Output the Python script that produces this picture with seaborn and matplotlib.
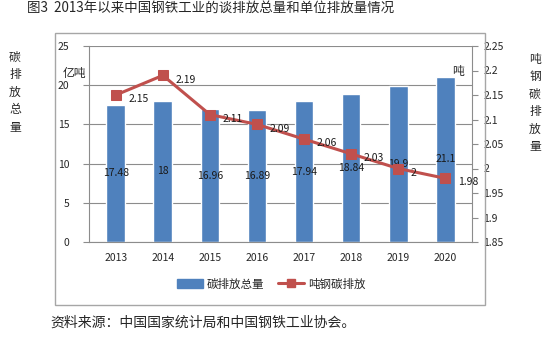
import matplotlib
matplotlib.use("Agg")
import matplotlib.pyplot as plt
from matplotlib.patches import Rectangle
from matplotlib.lines import Line2D
from matplotlib.patches import Patch
import numpy as np
import pandas as pd
import seaborn as sns

years = ['2013', '2014', '2015', '2016', '2017', '2018', '2019', '2020']
total_emission = [17.48, 18, 16.96, 16.89, 17.94, 18.84, 19.9, 21.1]   # 亿吨
per_ton = [2.15, 2.19, 2.11, 2.09, 2.06, 2.03, 2.0, 1.98]             # 吨
per_ton_labels = ['2.15', '2.19', '2.11', '2.09', '2.06', '2.03', '2', '1.98']
bar_labels = ['17.48', '18', '16.96', '16.89', '17.94', '18.84', '19.9', '21.1']

df = pd.DataFrame({'year': years, 'total': total_emission,
                   'pos': np.arange(len(years)), 'per_ton': per_ton})

sns.set_style("white")
plt.rcParams['font.family'] = ['Noto Sans CJK SC', 'DejaVu Sans']

blue = '#4F81BD'
red = '#C0504D'
grid = '#8C8C8C'

fig = plt.figure(figsize=(5.48, 3.57), dpi=100)
W, H = 548, 357

# chart frame
fig.patches.append(Rectangle((55 / W, 1 - 305 / H), 430 / W, 272 / H,
                             transform=fig.transFigure, fill=False,
                             edgecolor='#A6A6A6', linewidth=1.0))

ax = fig.add_axes([89 / W, 1 - 242 / H, 383 / W, 196 / H])
sns.barplot(data=df, x='year', y='total', color=blue, width=0.4,
            saturation=1, ax=ax)
ax.set_ylim(0, 25)
ax.set_yticks(range(0, 26, 5))
ax.yaxis.grid(True, color=grid, linewidth=0.8)
ax.set_axisbelow(True)
ax.set_xlabel('')
ax.set_ylabel('')
for s in ['top', 'right']:
    ax.spines[s].set_visible(False)
ax.spines['left'].set_color(grid)
ax.spines['bottom'].set_color(grid)
ax.tick_params(axis='y', length=4, color=grid, labelsize=7.5, pad=10)
ax.tick_params(axis='x', length=0, labelsize=7.5, pad=8)
ax.bar_label(ax.containers[0], labels=bar_labels, label_type='center',
             fontsize=7.5, color='#1a1a1a')

ax2 = ax.twinx()
sns.lineplot(data=df, x='pos', y='per_ton', color=red, linewidth=2.2,
             marker='s', markersize=6.5, markeredgecolor=red, ax=ax2)
ax2.set_ylim(1.85, 2.25)
ax2.set_yticks([1.85, 1.9, 1.95, 2.0, 2.05, 2.1, 2.15, 2.2, 2.25])
ax2.set_yticklabels(['1.85', '1.9', '1.95', '2', '2.05', '2.1', '2.15', '2.2', '2.25'])
ax2.set_xlim(ax.get_xlim())
ax2.set_xlabel('')
ax2.set_ylabel('')
for s in ['top', 'left', 'bottom']:
    ax2.spines[s].set_visible(False)
ax2.spines['right'].set_color(grid)
ax2.tick_params(axis='y', length=4, color=grid, labelsize=7.5, pad=4)
for x, y, t in zip(df['pos'], per_ton, per_ton_labels):
    ax2.annotate(t, (x, y), xytext=(9, -3), textcoords='offset points',
                 fontsize=7.5, va='center', ha='left', color='#1a1a1a')

# unit labels
fig.text(74 / W, 1 - 73 / H, '亿吨', fontsize=8.5, ha='center', va='center')
fig.text(458 / W, 1 - 71 / H, '吨', fontsize=8.5, ha='center', va='center')

# vertical axis titles
fig.text(15 / W, 1 - 92 / H, '\n'.join('碳排放总量'), fontsize=8.5,
         ha='center', va='center', linespacing=1.45)
fig.text(535 / W, 1 - 103 / H, '\n'.join('吨钢碳排放量'), fontsize=8.5,
         ha='center', va='center', linespacing=1.45)

# legend
handles = [Patch(facecolor=blue, edgecolor=blue),
           Line2D([0], [0], color=red, linewidth=2.2, marker='s', markersize=6)]
fig.legend(handles, ['碳排放总量', '吨钢碳排放'], loc='center',
           bbox_to_anchor=(271 / W, 1 - 284 / H), ncol=2, frameon=False,
           fontsize=8.3, handlelength=2.3, columnspacing=1.2, handletextpad=0.3)

fig.text(27 / W, 1 - 8 / H, '图3  2013年以来中国钢铁工业的谈排放总量和单位排放量情况',
         fontsize=9.7, ha='left', va='center')
fig.text(50 / W, 1 - 323 / H, '资料来源：中国国家统计局和中国钢铁工业协会。',
         fontsize=10, ha='left', va='center')

fig.savefig('out.png', dpi=100)
